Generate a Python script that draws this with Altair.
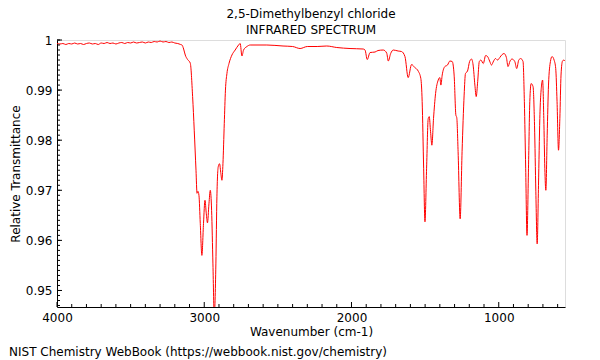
import altair as alt
import pandas as pd

TITLE = ["2,5-Dimethylbenzyl chloride", "INFRARED SPECTRUM"]
FOOTER = "NIST Chemistry WebBook (https://webbook.nist.gov/chemistry)"
X_TITLE = "Wavenumber (cm-1)"
Y_TITLE = "Relative Transmittance"

wavenumber = [
    4000, 3980, 3960, 3940, 3920, 3900, 3880, 3860, 3840, 3820, 3800, 3780, 3760, 3740,
    3720, 3700, 3680, 3660, 3640, 3620, 3600, 3580, 3560, 3540, 3520, 3500, 3480, 3460,
    3440, 3420, 3400, 3380, 3360, 3340, 3320, 3300, 3280, 3260, 3240, 3220, 3200, 3180,
    3160, 3151, 3140, 3129, 3113, 3095, 3079, 3068, 3056, 3049, 3043, 3036, 3027, 3016,
    3005, 2995, 2986, 2978, 2968, 2959, 2950, 2941, 2932, 2921, 2914, 2905, 2896, 2887,
    2880, 2873, 2864, 2856, 2846, 2832, 2812, 2790, 2767, 2756, 2744, 2733, 2710, 2688,
    2575, 2465, 2400, 2349, 2300, 2233, 2168, 2100, 2010, 1920, 1908, 1893, 1874, 1840,
    1820, 1784, 1761, 1750, 1734, 1716, 1683, 1660, 1637, 1615, 1592, 1570, 1547, 1529,
    1520, 1510, 1501, 1490, 1479, 1472, 1463, 1454, 1443, 1429, 1411, 1400, 1393, 1384,
    1366, 1348, 1332, 1316, 1303, 1291, 1285, 1276, 1262, 1249, 1235, 1226, 1212, 1198,
    1185, 1174, 1162, 1153, 1143, 1132, 1121, 1105, 1089, 1076, 1062, 1049, 1035, 1022,
    1008, 993, 977, 964, 948, 937, 923, 910, 891, 878, 864, 851, 835, 826,
    817, 808, 798, 789, 780, 767, 757, 748, 739, 730, 721, 709, 702, 694,
    687, 680, 671, 662, 649, 638, 624, 613, 604, 594, 585, 577, 567, 558, 550,
]
transmittance = [
    0.9993, 0.9992, 0.9993, 0.9991, 0.9993, 0.9992, 0.9994, 0.9992, 0.9993, 0.9991, 0.9993, 0.9994, 0.9992, 0.9993,
    0.9991, 0.9994, 0.9993, 0.9995, 0.9993, 0.9994, 0.9992, 0.9994, 0.9995, 0.9993, 0.9995, 0.9994, 0.9996, 0.9994,
    0.9995, 0.9996, 0.9994, 0.9996, 0.9995, 0.9997, 0.9996, 0.9998, 0.9996, 0.9997, 0.9995, 0.9996, 0.9994, 0.9993,
    0.9991, 0.9990, 0.9982, 0.9970, 0.9961, 0.9954, 0.9887, 0.9820, 0.9740, 0.9694, 0.9698, 0.9690, 0.9634, 0.9570,
    0.9634, 0.9680, 0.9653, 0.9635, 0.9673, 0.9700, 0.9660, 0.9553, 0.9450, 0.9553, 0.9687, 0.9747, 0.9753, 0.9733,
    0.9720, 0.9753, 0.9833, 0.9900, 0.9933, 0.9953, 0.9970, 0.9980, 0.9990, 0.9993, 0.9968, 0.9980, 0.9987, 0.9990,
    0.9990, 0.9988, 0.9987, 0.9983, 0.9987, 0.9987, 0.9988, 0.9985, 0.9983, 0.9982, 0.9980, 0.9961, 0.9975, 0.9976,
    0.9979, 0.9980, 0.9974, 0.9958, 0.9973, 0.9980, 0.9978, 0.9977, 0.9967, 0.9925, 0.9951, 0.9945, 0.9938, 0.9923,
    0.9877, 0.9744, 0.9637, 0.9744, 0.9843, 0.9847, 0.9817, 0.9790, 0.9843, 0.9893, 0.9920, 0.9925, 0.9910, 0.9930,
    0.9947, 0.9950, 0.9958, 0.9957, 0.9930, 0.9850, 0.9845, 0.9777, 0.9643, 0.9777, 0.9890, 0.9933, 0.9938, 0.9957,
    0.9962, 0.9950, 0.9910, 0.9887, 0.9917, 0.9957, 0.9960, 0.9953, 0.9969, 0.9967, 0.9958, 0.9950, 0.9958, 0.9963,
    0.9960, 0.9965, 0.9971, 0.9973, 0.9965, 0.9947, 0.9958, 0.9962, 0.9957, 0.9943, 0.9960, 0.9963, 0.9957, 0.9877,
    0.9744, 0.9610, 0.9744, 0.9877, 0.9913, 0.9907, 0.9830, 0.9697, 0.9593, 0.9710, 0.9843, 0.9910, 0.9920, 0.9843,
    0.9744, 0.9700, 0.9810, 0.9910, 0.9957, 0.9967, 0.9960, 0.9943, 0.9877, 0.9780, 0.9843, 0.9930, 0.9958, 0.9960, 0.9958,
]

x_major = [4000, 3000, 2000, 1000]
x_minor = [w for w in range(600, 4000, 100) if w % 1000 != 0]
y_major = [0.95, 0.96, 0.97, 0.98, 0.99, 1.0]
y_minor = [round(0.947 + 0.001 * i, 3) for i in range(54)]

W, H = 508, 267
FONT = "DejaVu Sans"

df = pd.DataFrame({"wn": wavenumber, "t": transmittance})
xscale = alt.Scale(domain=[4000, 550], nice=False, zero=False)
yscale = alt.Scale(domain=[0.9467, 1.0], nice=False, zero=False)

line = alt.Chart(df).mark_line(
    color="#ff0000", strokeWidth=1, clip=True, interpolate="monotone"
).encode(
    x=alt.X("wn:Q", scale=xscale, axis=alt.Axis(
        values=x_major, format="d", ticks=False, grid=False, domainColor="black",
        domainWidth=1, labelFont=FONT, labelFontSize=12, labelColor="black",
        labelPadding=5, labelFlush=False, title=X_TITLE, titleFont=FONT, titleFontSize=12,
        titleFontWeight="normal", titleColor="black", titlePadding=3)),
    y=alt.Y("t:Q", scale=yscale, axis=alt.Axis(
        values=y_major, format=".2~f", ticks=False, grid=False, domainColor="black",
        domainWidth=1, labelFont=FONT, labelFontSize=12, labelColor="black",
        labelPadding=5, labelFlush=False, title=Y_TITLE, titleFont=FONT, titleFontSize=12,
        titleFontWeight="normal", titleColor="black", titleX=-42, titleY=H / 2,
        titleAngle=-90, titleBaseline="middle", titleAlign="center")),
    order=alt.Order("wn:Q", sort="descending"),
)

xmin = alt.Chart(pd.DataFrame({"v": x_minor})).mark_rule(color="black", strokeWidth=1).encode(
    x=alt.X("v:Q", scale=xscale), y=alt.value(H), y2=alt.value(H - 3))
xmaj = alt.Chart(pd.DataFrame({"v": x_major})).mark_rule(color="black", strokeWidth=1).encode(
    x=alt.X("v:Q", scale=xscale), y=alt.value(H), y2=alt.value(H - 5))
ymin = alt.Chart(pd.DataFrame({"v": y_minor})).mark_rule(color="black", strokeWidth=1).encode(
    y=alt.Y("v:Q", scale=yscale), x=alt.value(0), x2=alt.value(3))
ymaj = alt.Chart(pd.DataFrame({"v": y_major})).mark_rule(color="black", strokeWidth=1).encode(
    y=alt.Y("v:Q", scale=yscale), x=alt.value(0), x2=alt.value(5))

footer = alt.Chart(pd.DataFrame({"t": [FOOTER]})).mark_text(
    align="left", baseline="middle", font=FONT, fontSize=12, color="black"
).encode(text="t:N", x=alt.value(-48), y=alt.value(312))

chart = alt.layer(line, xmin, xmaj, ymin, ymaj, footer).properties(
    width=W, height=H,
    autosize=alt.AutoSizeParams(type="none"),
    padding={"left": 49, "top": 32, "right": 27, "bottom": 53},
    title=alt.TitleParams(TITLE, font=FONT, fontSize=12, fontWeight="normal",
                          color="black", anchor="middle", offset=-3, lineHeight=16),
).configure_view(stroke="#8c8c8c", strokeWidth=2).configure(background="white")

chart.save("out.html", embed_options={"renderer": "svg", "actions": False})
